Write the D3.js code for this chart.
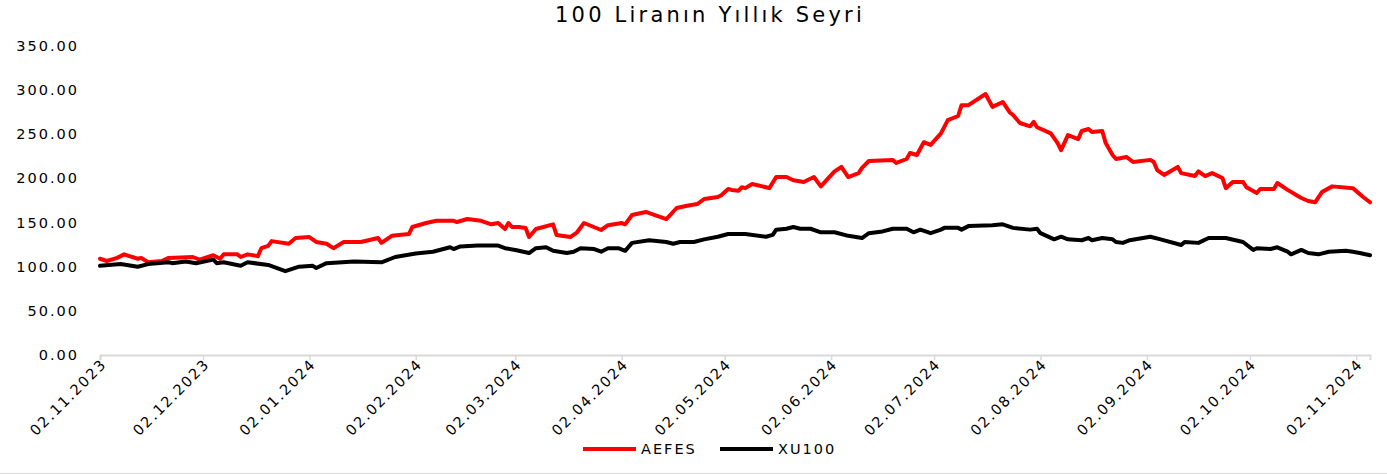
<!DOCTYPE html>
<html>
<head>
<meta charset="utf-8">
<script src="https://cdn.jsdelivr.net/npm/d3@7"></script>
<style>
	body { margin: 0; background: #fff; }
	svg { display: block; font-family: "DejaVu Sans", Verdana, sans-serif; }
</style>
</head>
<body>
<svg id="chart" width="1387" height="474" viewBox="0 0 1387 474"></svg>
<script>

const chart_title = "100 Liranın Yıllık Seyri";
const series_names = ["AEFES", "XU100"];
const series_colors = ["#ff0000", "#000000"];
const y_ticks = [0, 50, 100, 150, 200, 250, 300, 350];
const x_ticks = ["02.11.2023", "02.12.2023", "02.01.2024", "02.02.2024", "02.03.2024", "02.04.2024",
	"02.05.2024", "02.06.2024", "02.07.2024", "02.08.2024", "02.09.2024", "02.10.2024", "02.11.2024"];

const aefes_dates = ["02.11.2023","04.11.2023","07.11.2023","09.11.2023","13.11.2023","14.11.2023","16.11.2023","20.11.2023","22.11.2023","29.11.2023",
	"01.12.2023","05.12.2023","06.12.2023","07.12.2023","08.12.2023","12.12.2023","13.12.2023","15.12.2023","18.12.2023","19.12.2023","21.12.2023","22.12.2023","27.12.2023","29.12.2023",
	"02.01.2024","04.01.2024","07.01.2024","09.01.2024","12.01.2024","17.01.2024","22.01.2024","23.01.2024","26.01.2024","31.01.2024",
	"01.02.2024","05.02.2024","08.02.2024","13.02.2024","14.02.2024","17.02.2024","21.02.2024","24.02.2024","26.02.2024","28.02.2024","29.02.2024",
	"01.03.2024","03.03.2024","05.03.2024","06.03.2024","08.03.2024","13.03.2024","14.03.2024","18.03.2024","20.03.2024","22.03.2024","27.03.2024","29.03.2024",
	"02.04.2024","03.04.2024","05.04.2024","09.04.2024","15.04.2024","18.04.2024","21.04.2024","24.04.2024","26.04.2024","30.04.2024",
	"01.05.2024","03.05.2024","04.05.2024","06.05.2024","07.05.2024","08.05.2024","10.05.2024","14.05.2024","15.05.2024","17.05.2024","20.05.2024","22.05.2024","25.05.2024","28.05.2024","30.05.2024",
	"03.06.2024","05.06.2024","07.06.2024","10.06.2024","11.06.2024","13.06.2024","20.06.2024","21.06.2024","24.06.2024","25.06.2024","27.06.2024","29.06.2024",
	"01.07.2024","04.07.2024","06.07.2024","09.07.2024","10.07.2024","12.07.2024","17.07.2024","19.07.2024","22.07.2024","24.07.2024","25.07.2024","27.07.2024","30.07.2024","31.07.2024",
	"01.08.2024","05.08.2024","07.08.2024","08.08.2024","10.08.2024","13.08.2024","14.08.2024","16.08.2024","17.08.2024","20.08.2024","21.08.2024","23.08.2024","24.08.2024","27.08.2024","29.08.2024",
	"03.09.2024","04.09.2024","05.09.2024","07.09.2024","11.09.2024","12.09.2024","16.09.2024","17.09.2024","19.09.2024","21.09.2024","24.09.2024","25.09.2024","27.09.2024","30.09.2024",
	"01.10.2024","04.10.2024","05.10.2024","09.10.2024","10.10.2024","13.10.2024","16.10.2024","17.10.2024","19.10.2024","21.10.2024","23.10.2024","26.10.2024",
	"01.11.2024","04.11.2024","06.11.2024"];
const aefes_values = [109,106.5,110,114,109,110,105,106.5,110,111,
	108,113,111,109,114,114,111,114,112,121,123.5,129,126,132.5,
	133.6,128,126,121,128,128,132.5,127,135,137,
	145,149.5,152,152,150.6,154,152,148,149.5,142.7,149.5,
	145,145,143.8,133.6,142.7,148,136,133.6,139,149.5,141.6,147,
	149.5,148,158.6,162,154,166.5,169,171,176.7,179,
	181,188,187,186,190,189,193.7,190,189,201.6,201.6,198,196,201.6,191,
	208,213,201.6,206,212,219.7,221,217.5,222,228.8,226.5,241,
	238,251,266,270.7,283,283,295.6,281,286.6,275,271.8,262.8,259,264,
	258,251,240,232,249,244.6,253.7,256,252.6,253.7,240,226.5,222,224.3,218.6,
	221,218.6,209.5,203.9,213,206,202.7,208,202.7,206,200.5,189,196,196,
	190,183.5,188,188,194.8,187,180,177.8,174.4,173,184.6,191,
	189,179,173];

const xu100_dates = ["02.11.2023","08.11.2023","13.11.2023","16.11.2023","22.11.2023","23.11.2023","27.11.2023","30.11.2023",
	"05.12.2023","06.12.2023","08.12.2023","13.12.2023","15.12.2023","21.12.2023","26.12.2023","30.12.2023",
	"03.01.2024","04.01.2024","07.01.2024","15.01.2024","23.01.2024","27.01.2024",
	"02.02.2024","07.02.2024","12.02.2024","13.02.2024","15.02.2024","20.02.2024","26.02.2024","28.02.2024",
	"02.03.2024","06.03.2024","08.03.2024","11.03.2024","13.03.2024","17.03.2024","19.03.2024","21.03.2024","25.03.2024","27.03.2024","29.03.2024",
	"01.04.2024","03.04.2024","05.04.2024","10.04.2024","15.04.2024","17.04.2024","19.04.2024","23.04.2024","26.04.2024","30.04.2024",
	"03.05.2024","08.05.2024","14.05.2024","16.05.2024","17.05.2024","20.05.2024","22.05.2024","24.05.2024","27.05.2024","30.05.2024",
	"03.06.2024","07.06.2024","11.06.2024","13.06.2024","17.06.2024","20.06.2024","24.06.2024","26.06.2024","28.06.2024",
	"01.07.2024","04.07.2024","05.07.2024","09.07.2024","10.07.2024","12.07.2024","19.07.2024","22.07.2024","25.07.2024","30.07.2024",
	"01.08.2024","02.08.2024","06.08.2024","08.08.2024","10.08.2024","14.08.2024","16.08.2024","17.08.2024","20.08.2024","23.08.2024","24.08.2024","26.08.2024","28.08.2024",
	"03.09.2024","06.09.2024","12.09.2024","13.09.2024","17.09.2024","20.09.2024","25.09.2024","30.09.2024",
	"03.10.2024","04.10.2024","08.10.2024","10.10.2024","13.10.2024","14.10.2024","17.10.2024","19.10.2024","22.10.2024","25.10.2024","30.10.2024",
	"01.11.2024","03.11.2024","06.11.2024"];
const xu100_values = [101,103,100,103,105,104,106,104,
	108,104,105,101,105,102,95,100,
	101,98.5,104,106,105,111,
	115,117,122,120,123,124,124,121,
	119,115.5,121,122,118,115.5,117,121,120,117,121,
	121,118,127,130,128,126,128,128,131,134,
	137,137,134,136,142,143,145,143,143,139,
	139,135,132.5,138,140,143,143,139,142,
	138,142,144,144,142,146,147,148,144,142,
	143,138,131,134,131,130,132.5,130,132.5,131,128,127,130,
	134,131,124.6,128,127,132.5,132.5,128,
	119,121,120,122,117,114,119,115.5,114,117,118,
	117,115.5,113];


function drawChart(svg_element_id) {
	const svg = d3.select('#' + svg_element_id);
	const parseDate = d3.timeParse("%d.%m.%Y");
	const fmtTick = d3.timeFormat("%d.%m.%Y");

	const series = [
		aefes_dates.map((d, i) => ({ date: parseDate(d), value: aefes_values[i] })),
		xu100_dates.map((d, i) => ({ date: parseDate(d), value: xu100_values[i] }))
	];

	const all_dates = aefes_dates.concat(xu100_dates).map(parseDate);
	const x = d3.scaleTime()
		.domain(d3.extent(all_dates))
		.range([100, 1370]);
	const y = d3.scaleLinear()
		.domain([0, 350])
		.range([355, 46]);

	// title
	svg.append("text")
		.attr("x", 710)
		.attr("y", 22)
		.attr("text-anchor", "middle")
		.attr("font-size", 21)
		.attr("letter-spacing", "3.2px")
		.attr("fill", "#000")
		.text(chart_title);

	// y axis labels only, no gridlines
	svg.append("g")
		.selectAll("text")
		.data(y_ticks)
		.enter().append("text")
		.attr("x", 79)
		.attr("y", d => y(d) + 5)
		.attr("text-anchor", "end")
		.attr("font-size", 14.5)
		.attr("letter-spacing", "2px")
		.text(d => d3.format(".2f")(d));

	// x axis
	const tick_dates = x_ticks.map(parseDate);
	const xAxis = svg.append("g")
		.attr("transform", "translate(0,355)")
		.call(d3.axisBottom(x).tickValues(tick_dates).tickSize(5).tickFormat(fmtTick));
	xAxis.select(".domain").attr("stroke", "#d9d9d9").attr("stroke-width", 2);
	xAxis.selectAll(".tick line").attr("stroke", "#d9d9d9").attr("stroke-width", 1.5);
	xAxis.selectAll(".tick text")
		.attr("font-family", "DejaVu Sans, Verdana, sans-serif")
		.attr("font-size", 14.5)
		.attr("letter-spacing", "1.8px")
		.attr("fill", "#000")
		.attr("text-anchor", "end")
		.attr("dy", null)
		.attr("y", null)
		.attr("transform", "translate(7,10) rotate(-45)");

	// lines
	const line = d3.line()
		.x(d => x(d.date))
		.y(d => y(d.value));

	svg.selectAll("path.series")
		.data(series)
		.enter().append("path")
		.attr("class", "series")
		.attr("fill", "none")
		.attr("stroke", (d, i) => series_colors[i])
		.attr("stroke-width", 4)
		.attr("stroke-linejoin", "round")
		.attr("stroke-linecap", "round")
		.attr("d", line);

	// legend
	const legend_x = [583, 720];
	const legend = svg.append("g");
	series_names.forEach((name, i) => {
		legend.append("line")
			.attr("x1", legend_x[i]).attr("x2", legend_x[i] + 53)
			.attr("y1", 449).attr("y2", 449)
			.attr("stroke", series_colors[i])
			.attr("stroke-width", 4);
		legend.append("text")
			.attr("x", legend_x[i] + 58)
			.attr("y", 454)
			.attr("font-size", 14.5)
			.attr("letter-spacing", "2px")
			.text(name);
	});

	// outer border bottom edge
	svg.append("line")
		.attr("x1", 0).attr("x2", 1387)
		.attr("y1", 473.5).attr("y2", 473.5)
		.attr("stroke", "#d9d9d9");
}

function whenDocumentLoaded(action) {
	if (document.readyState === "loading") {
		document.addEventListener("DOMContentLoaded", action);
	} else {
		action();
	}
}

whenDocumentLoaded(() => {
	drawChart('chart');
});
</script>
</body>
</html>
